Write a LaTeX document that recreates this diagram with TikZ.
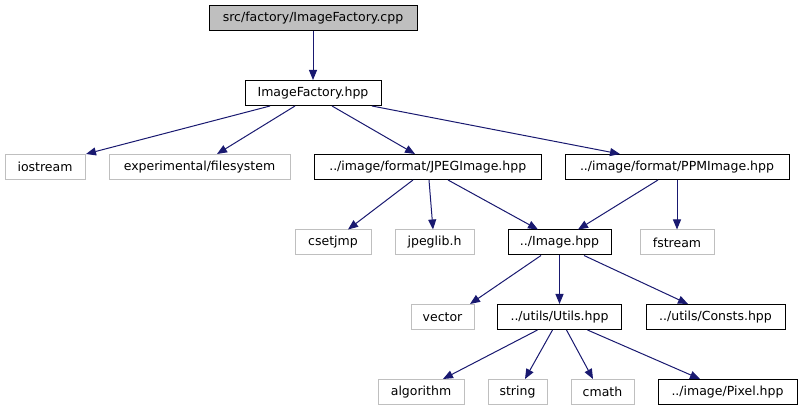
\documentclass[tikz,border=0pt]{standalone}
\usepackage{fontspec}
\setmainfont{DejaVu Sans}
\usetikzlibrary{arrows.meta,calc}
\definecolor{edgeblue}{HTML}{191970}
\definecolor{lightborder}{HTML}{BFBFBF}
\definecolor{rootfill}{HTML}{BFBFBF}
\begin{document}
\begin{tikzpicture}[x=1pt,y=-1pt,
  box/.style={draw=black,line width=1pt,minimum height=25pt,inner sep=0pt,
    font=\fontsize{12.5}{14}\selectfont,anchor=center},
  ext/.style={box,draw=lightborder},
  root/.style={box,fill=rootfill},
  dep/.style={draw=edgeblue,line width=1pt,-{Triangle[length=10pt,width=8pt]}}]
\useasboundingbox (0,0) rectangle (803,411);
% nodes
\node[root,minimum width=208pt] (cpp) at (313,18.5) {src/factory/ImageFactory.cpp};
\node[box,minimum width=136pt] (hpp) at (313,93) {ImageFactory.hpp};
\node[ext,minimum width=80pt] (ios) at (45,167) {iostream};
\node[ext,minimum width=181pt] (fs) at (199.5,167) {experimental/filesystem};
\node[box,minimum width=227.5pt] (jpeg) at (427.75,167) {../image/format/JPEGImage.hpp};
\node[box,minimum width=224pt] (ppm) at (677,167) {../image/format/PPMImage.hpp};
\node[ext,minimum width=76pt] (csj) at (333,242.5) {csetjmp};
\node[ext,minimum width=79pt] (jpl) at (434.5,242.5) {jpeglib.h};
\node[box,minimum width=103pt] (img) at (559.5,242.5) {../Image.hpp};
\node[ext,minimum width=74pt] (fst) at (677,242.5) {fstream};
\node[ext,minimum width=63pt] (vec) at (442.5,317) {vector};
\node[box,minimum width=124pt] (utl) at (559.5,317) {../utils/Utils.hpp};
\node[box,minimum width=139pt] (cst) at (715.5,317) {../utils/Consts.hpp};
\node[ext,minimum width=86pt] (alg) at (421,392) {algorithm};
\node[ext,minimum width=59pt] (str) at (517.5,392) {string};
\node[ext,minimum width=63pt] (cmt) at (602.5,392) {cmath};
\node[box,minimum width=139pt] (pix) at (727.5,392) {../image/Pixel.hpp};
% edges
\draw[dep] (cpp.south) -- (hpp.north);
\draw[dep] ($(hpp.south)+(-43,0)$) -- ($(ios.north)+(41,0)$);
\draw[dep] ($(hpp.south)+(-18,0)$) -- ($(fs.north)+(17.5,0)$);
\draw[dep] ($(hpp.south)+(19,0)$) -- ($(jpeg.north)+(-12.75,0)$);
\draw[dep] ($(hpp.south)+(59,0)$) -- ($(ppm.north)+(-57,0)$);
\draw[dep] ($(jpeg.south)+(-14.75,0)$) -- ($(csj.north)+(15,0)$);
\draw[dep] ($(jpeg.south)+(1.25,0)$) -- ($(jpl.north)+(-1.5,0)$);
\draw[dep] ($(jpeg.south)+(20.25,0)$) -- ($(img.north)+(-21.5,0)$);
\draw[dep] ($(ppm.south)+(-19,0)$) -- ($(img.north)+(18.5,0)$);
\draw[dep] (ppm.south) -- (fst.north);
\draw[dep] ($(img.south)+(-18.5,0)$) -- ($(vec.north)+(27.5,0)$);
\draw[dep] (img.south) -- (utl.north);
\draw[dep] ($(img.south)+(24.5,0)$) -- ($(cst.north)+(-27.5,0)$);
\draw[dep] ($(utl.south)+(-22,0)$) -- ($(alg.north)+(22,0)$);
\draw[dep] ($(utl.south)+(-7,0)$) -- ($(str.north)+(7.5,0)$);
\draw[dep] ($(utl.south)+(7,0)$) -- ($(cmt.north)+(-9.5,0)$);
\draw[dep] ($(utl.south)+(28,0)$) -- ($(pix.north)+(-27.5,0)$);
\end{tikzpicture}
\end{document}
